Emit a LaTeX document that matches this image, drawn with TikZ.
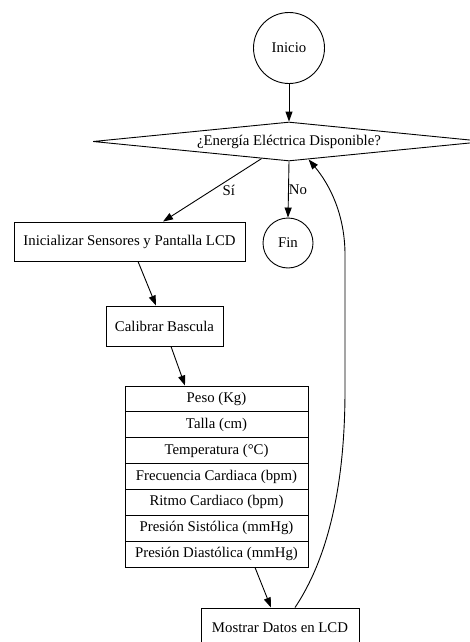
\documentclass[tikz,border=0pt]{standalone}
\usepackage{fontspec}
\setmainfont{Liberation Serif}
\usetikzlibrary{shapes.geometric,arrows.meta,calc}
\begin{document}
\begin{tikzpicture}[x=1pt,y=-1pt,line width=0.9pt,
  every node/.style={font=\fontsize{14.8}{17}\selectfont,inner sep=0pt},
  caja/.style={draw,rectangle,minimum height=39pt},
  circulo/.style={draw,circle},
  flecha/.style={-{Triangle[length=10pt,width=7pt]}}]
\useasboundingbox (0,0) rectangle (470,642);
\node[circulo,minimum size=71pt] (inicio) at (289,48) {Inicio};
\node[draw,diamond,shape aspect=10,minimum width=392pt,minimum height=39pt] (dec) at (289,141.5) {¿Energía Eléctrica Disponible?};
\node[circulo,minimum size=50pt] (fin) at (288,243) {Fin};
\node[caja,minimum width=231pt] (init) at (129.5,241.5) {Inicializar Sensores y Pantalla LCD};
\node[caja,minimum width=117pt,minimum height=40pt] (cal) at (164.5,326) {Calibrar Bascula};
\foreach \t [count=\i] in {Peso (Kg),Talla (cm),Temperatura (°C),Frecuencia Cardiaca (bpm),Ritmo Cardiaco (bpm),Presión Sistólica (mmHg),Presión Diastólica (mmHg)}
	\node[caja,minimum width=183pt,minimum height=25.86pt] (r\i) at (216.5,{386+(\i-0.5)*25.857}) {\t};
\node[caja,minimum width=158pt,minimum height=40pt] (show) at (280,628) {Mostrar Datos en LCD};
\draw[flecha] (inicio) -- (dec);
\draw[flecha] ($(dec.south)!0.14!(dec.west)$) -- node[pos=0.5,right=10pt] {Sí} ([xshift=33.5pt]init.north);
\draw[flecha] (dec.south) -- node[right=0pt] {No} (fin.north);
\draw[flecha] ([xshift=8.5pt]init.south) -- ([xshift=-8.5pt]cal.north);
\draw[flecha] ([xshift=6.5pt]cal.south) -- ([xshift=-31.5pt]r1.north);
\draw[flecha] ([xshift=38.5pt]r7.south) -- ([xshift=-9pt]show.north);
\draw[flecha] ([xshift=15pt]show.north) .. controls (330,555) and (345,480) .. (345,390) -- (345,255) .. controls (345,215) and (330,185) .. ($(dec.south)!0.1!(dec.east)$);
\end{tikzpicture}
\end{document}
